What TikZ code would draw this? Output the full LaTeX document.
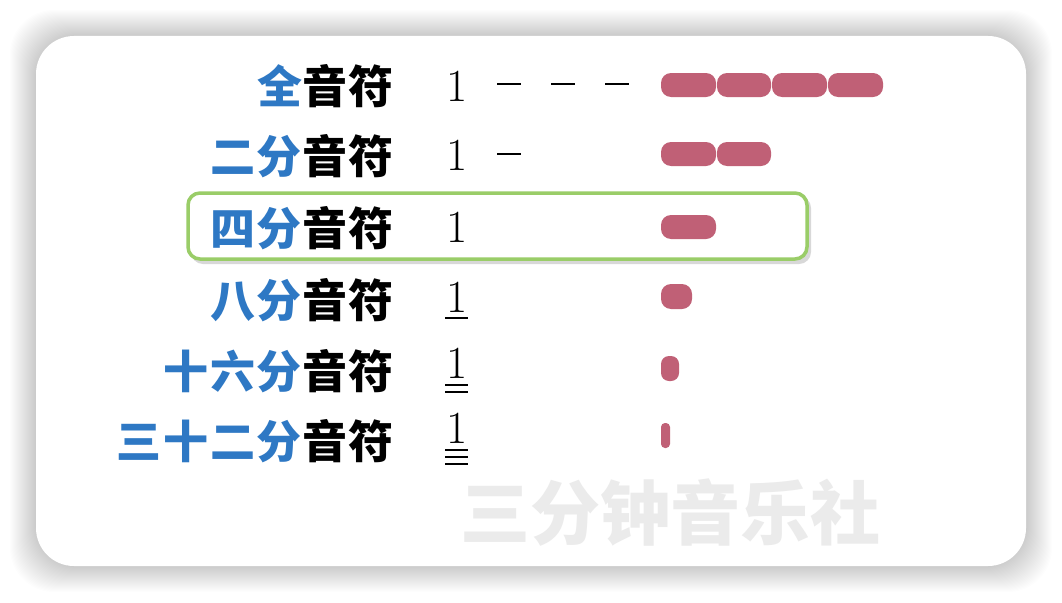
\documentclass[tikz,border=0pt]{standalone}
\usepackage{fontspec}
\newfontfamily\cjk{Noto Sans CJK SC}
\newfontfamily\cjkw{Noto Sans CJK SC}[LetterSpace=4]
\definecolor{nblue}{HTML}{2E78C4}
\definecolor{npink}{HTML}{C06076}
\definecolor{ngreen}{HTML}{9ACD68}
\definecolor{wmark}{HTML}{EBEBEB}
\begin{document}
\begin{tikzpicture}[x=1pt,y=-1pt,
  lbl/.style={font=\cjkw\bfseries\fontsize{45}{45}\selectfont, anchor=base east, inner sep=0pt},
  num/.style={font=\fontsize{46}{46}\selectfont, anchor=base, inner sep=0pt},
  pill/.style={fill=npink, rounded corners=10pt},
  dashln/.style={line width=1.6pt},
  ul/.style={line width=2.8pt}]
\useasboundingbox (0,0) rectangle (1062,602);
% card shadow
\foreach \e in {1,...,26}{
  \fill[black, opacity=0.0075, rounded corners=44pt] (36-\e,36-\e) rectangle (1026+\e,566+\e);
}
\fill[white, rounded corners=38pt] (36,36) rectangle (1026,566);
% watermark
\node[font=\cjk\bfseries\fontsize{70}{70}\selectfont, text=wmark, anchor=base, inner sep=0pt] (wm) at (670,539) {三分钟音乐社};
% highlight box
\fill[black!30, opacity=0.5, rounded corners=12pt] (191,196) rectangle (811,264);
\draw[ngreen, line width=3.5pt, fill=white, rounded corners=12pt] (188,193) rectangle (807,259);
% labels
\node[lbl] (l1) at (394,103) {{\color{nblue}全}音符};
\node[lbl] (l2) at (394,173) {{\color{nblue}二分}音符};
\node[lbl] (l3) at (394,245) {{\color{nblue}四分}音符};
\node[lbl] (l4) at (394,317) {{\color{nblue}八分}音符};
\node[lbl] (l5) at (394,388) {{\color{nblue}十六分}音符};
\node[lbl] (l6) at (394,458) {{\color{nblue}三十二分}音符};
% numerals
\node[num] (n1) at (457,101) {1};
\node[num] (n2) at (457,170) {1};
\node[num] (n3) at (457,242) {1};
\node[num] (n4) at (457,312) {1};
\node[num] (n5) at (457,378) {1};
\node[num] (n6) at (457,443) {1};
% dashes
\draw[dashln] (497,84) -- (521,84);
\draw[dashln] (551,84) -- (575,84);
\draw[dashln] (605,84) -- (629,84);
\draw[dashln] (497,154) -- (521,154);
% underlines
\draw[ul] (445,318) -- (468,318);
\draw[ul] (445,385) -- (468,385);
\draw[ul] (445,392) -- (468,392);
\draw[ul] (445,450) -- (468,450);
\draw[ul] (445,457) -- (468,457);
\draw[ul] (445,464) -- (468,464);
% pills
\fill[pill] (661,73) rectangle (716,97);
\fill[pill] (717,73) rectangle (771,97);
\fill[pill] (772,73) rectangle (827,97);
\fill[pill] (828,73) rectangle (883,97);
\fill[pill] (661,142) rectangle (716,166);
\fill[pill] (717,142) rectangle (771,166);
\fill[pill] (661,215) rectangle (716,239);
\fill[pill] (661,284) rectangle (692,309);
\fill[pill, rounded corners=8pt] (661,356) rectangle (679,381);
\fill[pill, rounded corners=4pt] (661,423) rectangle (670,448);
\end{tikzpicture}
\end{document}
